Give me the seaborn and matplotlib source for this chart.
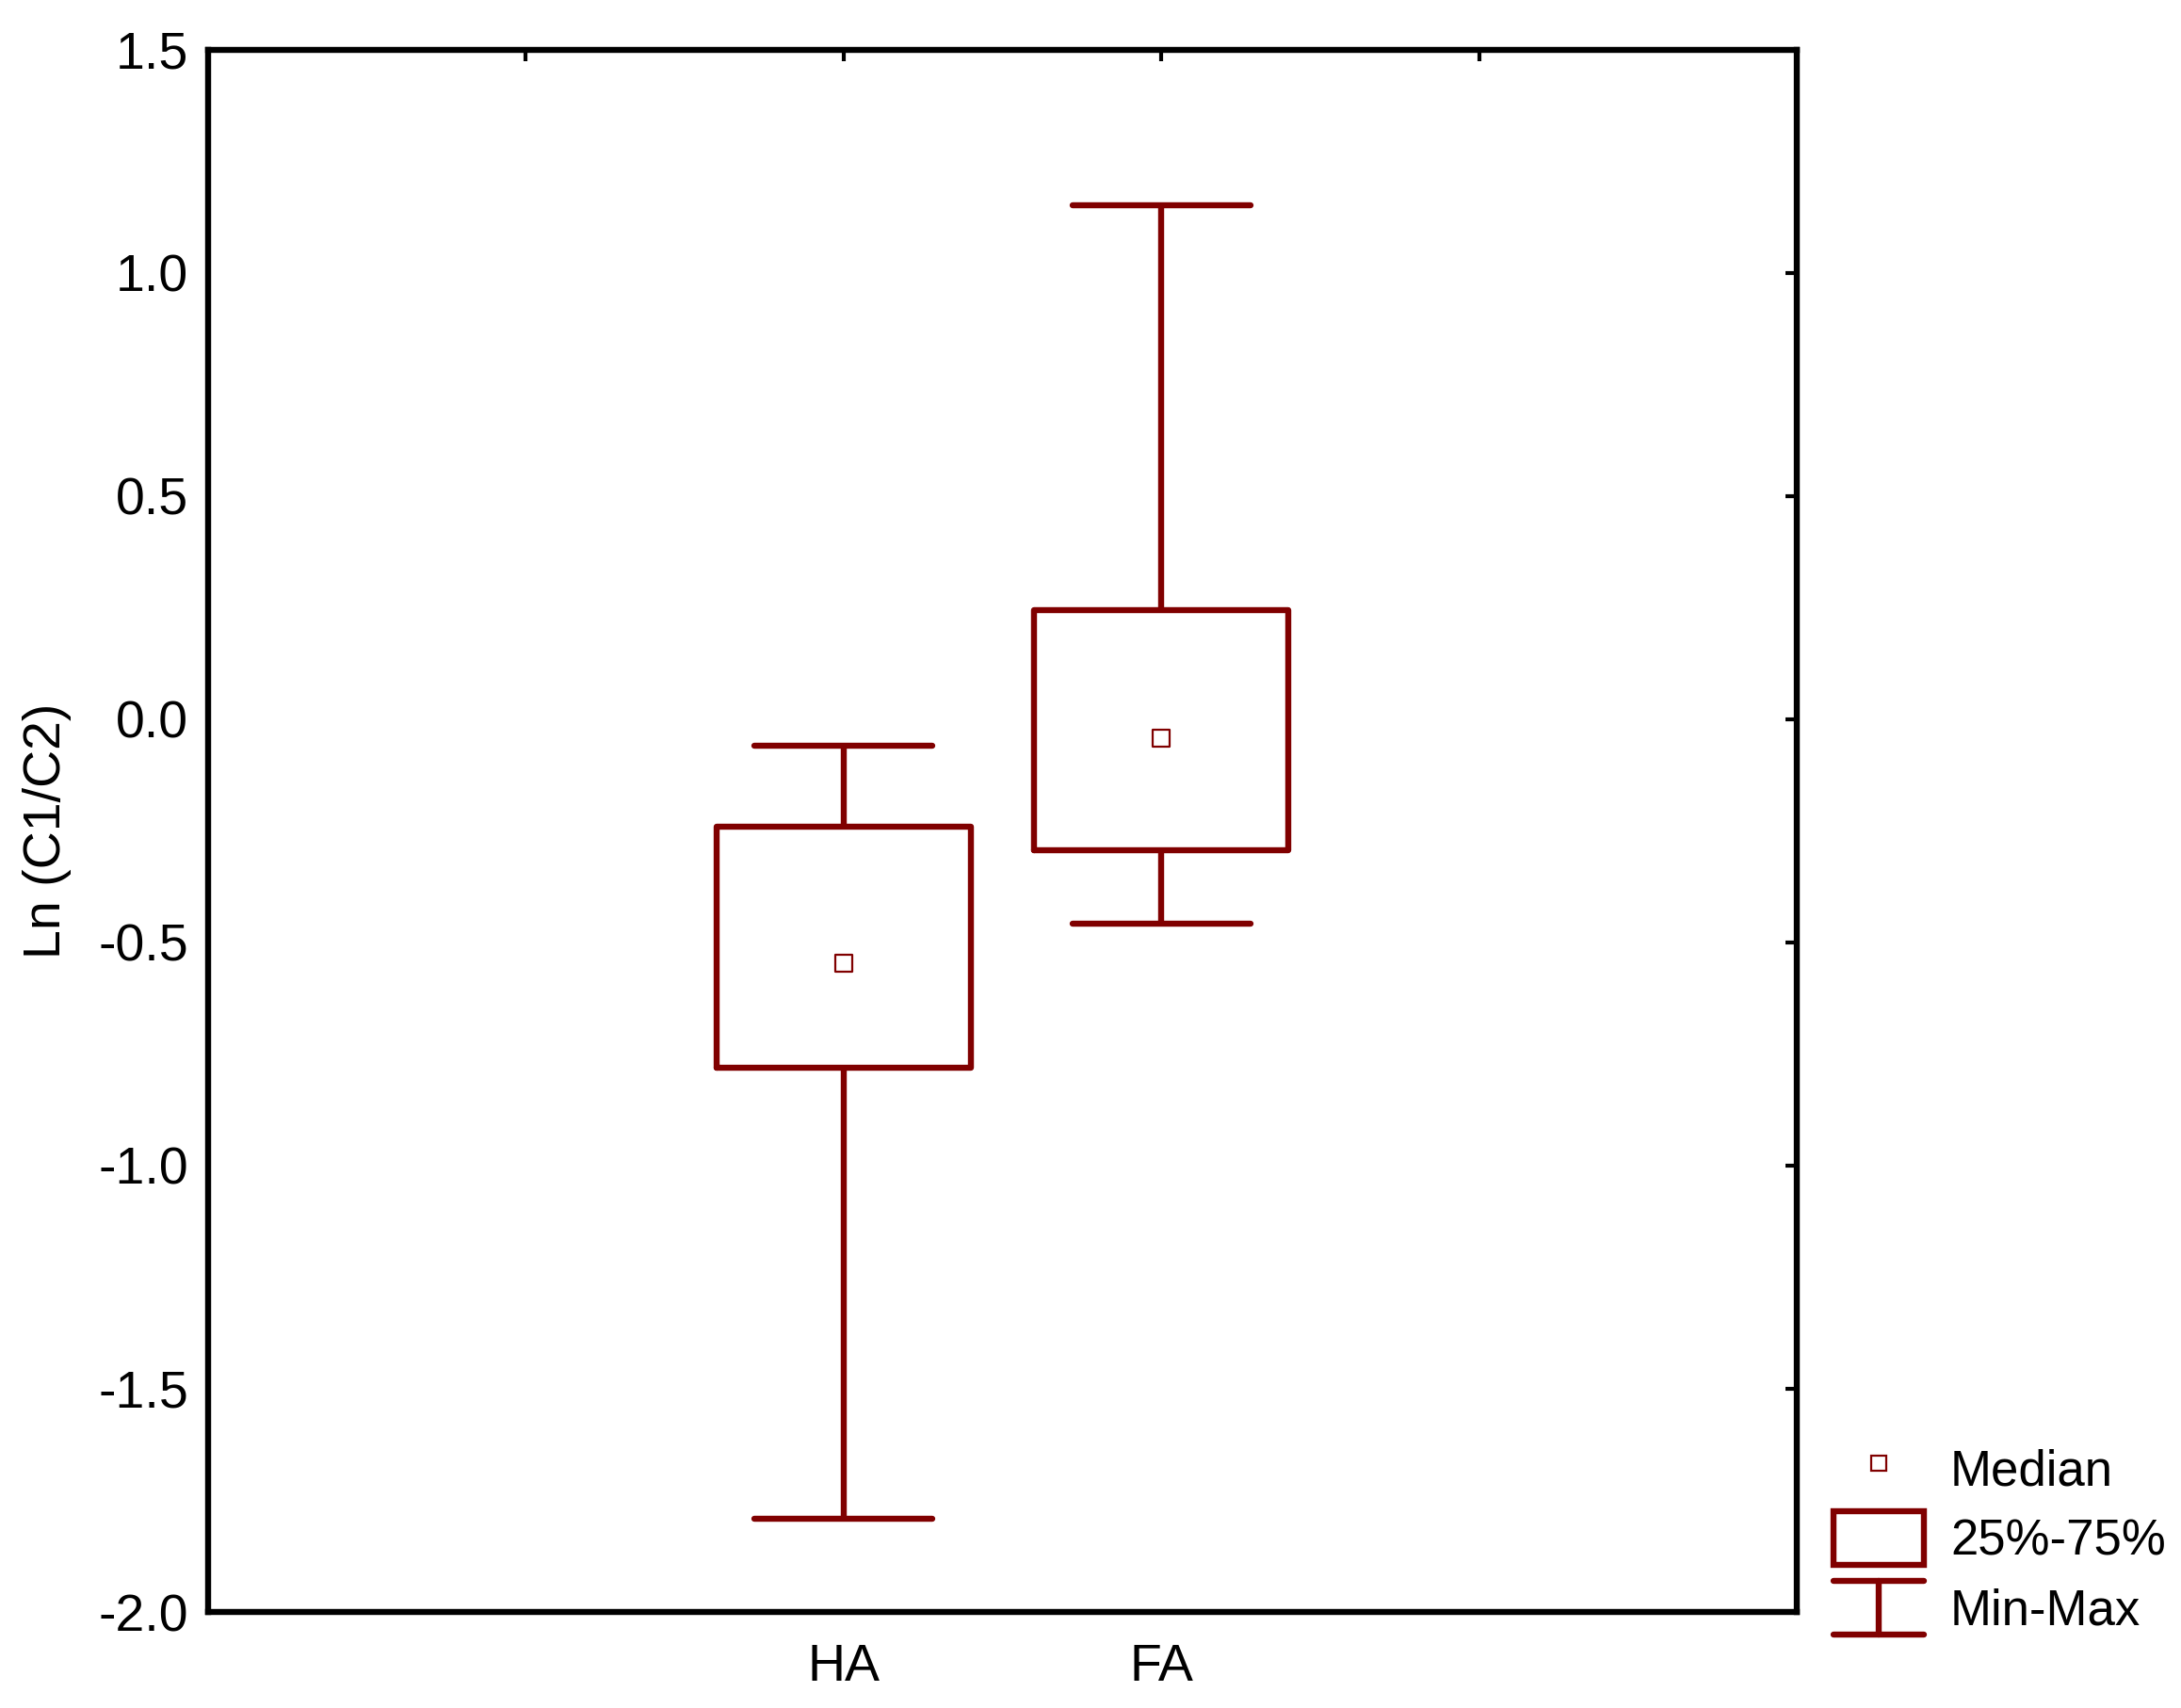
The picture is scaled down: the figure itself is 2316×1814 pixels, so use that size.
import numpy as np
import pandas as pd
import matplotlib
matplotlib.use("Agg")
import matplotlib.pyplot as plt
import seaborn as sns
from matplotlib.lines import Line2D
from matplotlib.patches import Rectangle
from matplotlib.legend_handler import HandlerBase

# valores
grupos = ["HA", "FA"]
minimos = [-1.792, -0.459]
q1 = [-0.780, -0.294]
medianas = [-0.546, -0.042]
q3 = [-0.241, 0.245]
maximos = [-0.060, 1.151]

cor = "#800000"
lw = 4.6

# 5 pontos por grupo -> percentis 0/25/50/75/100 saem exatamente
linhas = []
for i, g in enumerate(grupos):
    for v in [minimos[i], q1[i], medianas[i], q3[i], maximos[i]]:
        linhas.append({"grupo": g, "valor": v})
df = pd.DataFrame(linhas)

sns.set_style("white")
plt.rcParams["font.family"] = ["Liberation Sans", "DejaVu Sans"]
plt.rcParams["text.color"] = "black"
plt.rcParams["axes.labelcolor"] = "black"

fig = plt.figure(figsize=(23.16, 18.14), dpi=100)
ax = fig.add_axes([0.0954, 0.0562, 0.7284, 0.9148])

sns.boxplot(data=df, x="grupo", y="valor", order=grupos, whis=(0, 100),
            fill=False, color=cor, linecolor=cor, linewidth=lw, width=0.8,
            capwidths=0.56, medianprops=dict(linewidth=0), ax=ax)
sns.scatterplot(x=grupos, y=medianas, marker="s", s=160, color="white",
                edgecolor=cor, linewidth=1.6, zorder=5, ax=ax)

ax.set_xlim(-2, 3)
ax.set_ylim(-2.0, 1.5)
ax.set_xticks([-1, 0, 1, 2])
ax.set_xticklabels(["", "HA", "FA", ""])
ax.set_yticks(np.arange(-2.0, 1.51, 0.5))
ax.set_yticklabels([f"{v:.1f}" for v in np.arange(-2.0, 1.51, 0.5)])
ax.set_xlabel("")
ax.set_ylabel("Ln (C1/C2)", fontsize=40, color="black")
ax.yaxis.set_label_coords(-0.086, 0.5)

for s in ax.spines.values():
    s.set_visible(True)
    s.set_linewidth(lw)
    s.set_color("black")
ax.tick_params(axis="both", which="both", direction="in", length=8.5, width=3,
               top=True, right=True, labelsize=40, colors="black")
ax.tick_params(axis="y", pad=15)
ax.tick_params(axis="x", pad=24)


class HandlerMinMax(HandlerBase):
    def create_artists(self, legend, orig_handle, xdescent, ydescent,
                       width, height, fontsize, trans):
        x0, x1 = -xdescent, -xdescent + width
        y0, y1 = -ydescent, -ydescent + height
        xm = (x0 + x1) / 2
        kw = dict(color=cor, linewidth=lw, transform=trans, solid_capstyle="round")
        return [Line2D([x0, x1], [y1, y1], **kw),
                Line2D([x0, x1], [y0, y0], **kw),
                Line2D([xm, xm], [y0, y1], **kw)]


h_med = Line2D([], [], linestyle="none", marker="s", markersize=12,
               markerfacecolor="white", markeredgecolor=cor, markeredgewidth=1.6)
h_box = Rectangle((0, 0), 1, 1, facecolor="white", edgecolor=cor, linewidth=lw)
h_mm = object()

fig.legend([h_med, h_box, h_mm], ["Median", "25%-75%", "Min-Max"],
           handler_map={h_mm: HandlerMinMax()},
           loc="upper left", bbox_to_anchor=(0.8407, 0.1561), frameon=False,
           fontsize=38, handlelength=1.82, handleheight=1.3, labelspacing=0.31,
           handletextpad=0.53, borderpad=0, borderaxespad=0, labelcolor="black")

fig.savefig("out.png", dpi=100)
